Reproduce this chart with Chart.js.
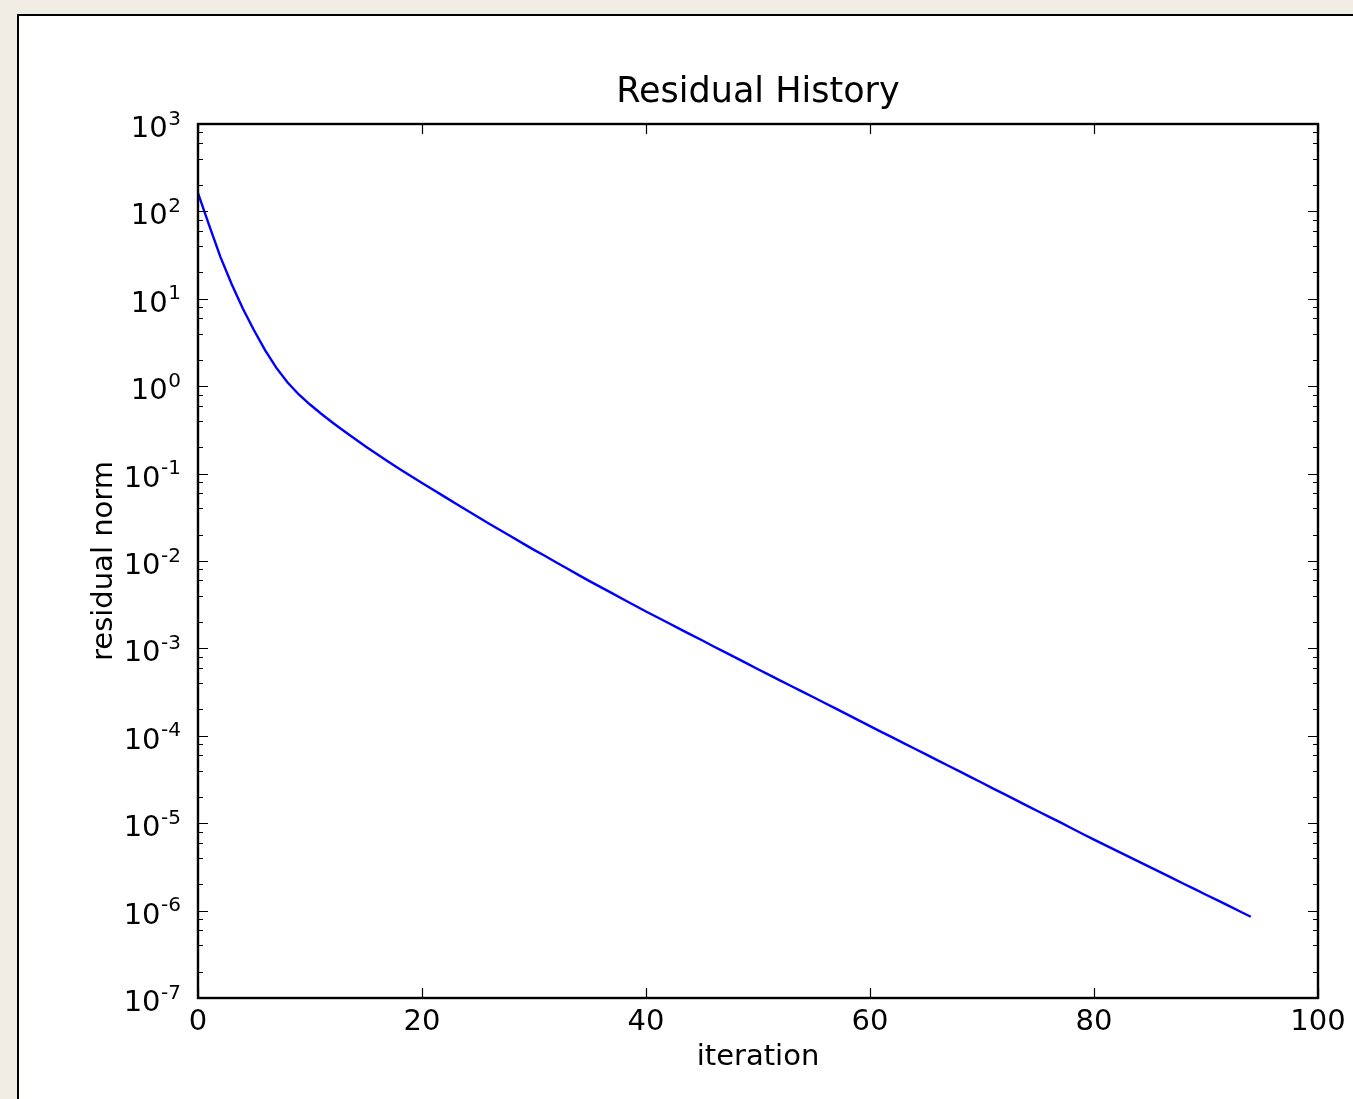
<!DOCTYPE html>
<html>
<head>
<meta charset="utf-8">
<script src="https://cdn.jsdelivr.net/npm/chart.js@4.4.1/dist/chart.umd.min.js"></script>
<style>
  html, body { margin: 0; padding: 0; width: 1353px; height: 1099px; overflow: hidden; background: #f1ede5; }
  #panel { position: absolute; left: 17px; top: 14px; width: 1400px; height: 1200px; background: #fff; border-left: 2px solid #000; border-top: 2px solid #000; }
  #chart { position: absolute; left: 0; top: 0; }
</style>
</head>
<body>
<div id="panel"></div>
<canvas id="chart" width="1353" height="1099"></canvas>
<script>
// residual norm per iteration
const iterations = [];
for (let i = 0; i <= 94; i++) iterations.push(i);

const residuals = [
  162, 69.2, 30.2, 14.8, 7.76, 4.37, 2.57, 1.62, 1.10, 0.804,
  0.617, 0.484, 0.385, 0.309, 0.250, 0.203, 0.166, 0.137, 0.113, 0.0938,
  0.0780, 0.0652, 0.0545, 0.0455, 0.0380, 0.0318, 0.0267, 0.0225, 0.0189, 0.0159,
  0.0134, 0.0114, 0.00962, 0.00815, 0.00690, 0.00585, 0.00499, 0.00426, 0.00363, 0.00310,
  0.00264, 0.00227, 0.00195, 0.00167, 0.00144, 0.00124, 0.00106, 9.12e-4, 7.83e-4, 6.73e-4,
  5.78e-4, 4.98e-4, 4.28e-4, 3.69e-4, 3.18e-4, 2.74e-4, 2.36e-4, 2.03e-4, 1.75e-4, 1.50e-4,
  1.29e-4, 1.11e-4, 9.59e-5, 8.26e-5, 7.11e-5, 6.12e-5, 5.27e-5, 4.54e-5, 3.91e-5, 3.37e-5,
  2.90e-5, 2.49e-5, 2.15e-5, 1.85e-5, 1.59e-5, 1.37e-5, 1.18e-5, 1.02e-5, 8.75e-6, 7.53e-6,
  6.49e-6, 5.61e-6, 4.85e-6, 4.20e-6, 3.63e-6, 3.14e-6, 2.72e-6, 2.35e-6, 2.03e-6, 1.76e-6,
  1.52e-6, 1.32e-6, 1.14e-6, 9.84e-7, 8.51e-7
];

const xTicks = [0, 20, 40, 60, 80, 100];
const yDecades = [1e-7, 1e-6, 1e-5, 1e-4, 1e-3, 1e-2, 1e-1, 1e0, 1e1, 1e2, 1e3];
const yExponents = ['-7', '-6', '-5', '-4', '-3', '-2', '-1', '0', '1', '2', '3'];
const minorSubs = [2, 4, 6, 8];

const FONT = 'DejaVu Sans';

// matplotlib-ish inward ticks on all four sides, frame, and 10^n labels
const axisBox = {
  id: 'axisBox',
  afterDatasetsDraw(chart) {
    const { ctx, chartArea: a, scales: { x, y } } = chart;
    ctx.save();
    ctx.strokeStyle = '#000';
    ctx.lineWidth = 1.2;
    ctx.beginPath();
    xTicks.forEach(v => {
      const px = Math.round(x.getPixelForValue(v)) + 0.5;
      ctx.moveTo(px, a.bottom); ctx.lineTo(px, a.bottom - 10);
      ctx.moveTo(px, a.top); ctx.lineTo(px, a.top + 10);
    });
    yDecades.forEach((d, i) => {
      const py = Math.round(y.getPixelForValue(d)) + 0.5;
      ctx.moveTo(a.left, py); ctx.lineTo(a.left + 10, py);
      ctx.moveTo(a.right, py); ctx.lineTo(a.right - 10, py);
      if (i < yDecades.length - 1) {
        minorSubs.forEach(s => {
          const pm = Math.round(y.getPixelForValue(s * d)) + 0.5;
          ctx.moveTo(a.left, pm); ctx.lineTo(a.left + 5, pm);
          ctx.moveTo(a.right, pm); ctx.lineTo(a.right - 5, pm);
        });
      }
    });
    ctx.stroke();
    ctx.lineWidth = 2.4;
    ctx.strokeRect(a.left, a.top, a.right - a.left, a.bottom - a.top);

    // y tick labels: "10" with a raised exponent
    ctx.fillStyle = '#000';
    ctx.textBaseline = 'alphabetic';
    ctx.textAlign = 'right';
    const rightEdge = a.left - 17;
    yDecades.forEach((d, i) => {
      const py = y.getPixelForValue(d);
      ctx.font = '20px "' + FONT + '"';
      const ew = ctx.measureText(yExponents[i]).width;
      ctx.fillText(yExponents[i], rightEdge, py + 0.5);
      ctx.font = '29px "' + FONT + '"';
      ctx.fillText('10', rightEdge - ew - 0.5, py + 13);
    });
    ctx.restore();
  }
};

new Chart(document.getElementById('chart'), {
  type: 'line',
  data: {
    datasets: [{
      data: iterations.map((it, i) => ({ x: it, y: residuals[i] })),
      borderColor: '#0000ff',
      borderWidth: 2.4,
      pointRadius: 0,
      tension: 0,
      fill: false
    }]
  },
  options: {
    responsive: false,
    devicePixelRatio: 1,
    animation: false,
    layout: { padding: { left: 0, right: 35, top: 0, bottom: 0 } },
    plugins: {
      legend: { display: false },
      tooltip: { enabled: false },
      title: {
        display: true,
        fullSize: false,
        text: 'Residual History',
        color: '#000',
        font: { family: FONT, size: 35, weight: 'normal', lineHeight: 1.2 },
        padding: { top: 72, bottom: 10 }
      }
    },
    scales: {
      x: {
        type: 'linear',
        min: 0,
        max: 100,
        grid: { display: false, drawTicks: false },
        border: { display: false },
        afterBuildTicks: s => { s.ticks = xTicks.map(v => ({ value: v })); },
        afterFit: s => { s.height = 101; },
        ticks: {
          autoSkip: false,
          maxRotation: 0,
          padding: 7,
          color: '#000',
          font: { family: FONT, size: 29 },
          callback: v => String(v)
        },
        title: {
          display: true,
          text: 'iteration',
          color: '#000',
          font: { family: FONT, size: 29 },
          padding: { top: 0, bottom: 24 }
        }
      },
      y: {
        type: 'logarithmic',
        min: 1e-7,
        max: 1e3,
        grid: { display: false, drawTicks: false },
        border: { display: false },
        afterBuildTicks: s => { s.ticks = yDecades.map(v => ({ value: v, major: true })); },
        afterFit: s => { s.width = 198; },
        ticks: { display: false },
        title: {
          display: true,
          text: 'residual norm',
          color: '#000',
          font: { family: FONT, size: 29 },
          padding: { top: 87, bottom: 0 }
        }
      }
    }
  },
  plugins: [axisBox]
});
</script>
</body>
</html>
